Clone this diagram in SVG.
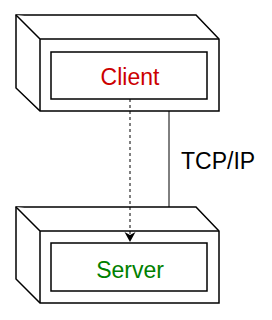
<svg xmlns="http://www.w3.org/2000/svg" width="272" height="320" viewBox="0 0 272 320">
<style>
.box{fill:#fff;stroke:#000;stroke-width:1.5}
.lbl{font-family:"Liberation Sans",Arial,sans-serif;font-size:23px;text-anchor:middle}
.edge{fill:none;stroke:#000;stroke-width:1}
</style>
<defs>
<marker id="arr" markerWidth="12" markerHeight="12" refX="10" refY="5.5" orient="auto" markerUnits="userSpaceOnUse">
<path d="M0,0 L10,5.5 L0,11 L3,5.5 Z" fill="#000"/>
</marker>
</defs>
<rect width="272" height="320" fill="#fff"/>
<g id="client">
<path class="box" d="M16,15 L196,15 L219,39 L219,111 L40,111 L16,88 Z"/>
<path class="box" d="M16,15 L40,39 L219,39 M40,39 L40,111"/>
<rect class="box" x="51" y="52" width="156" height="47"/>
<text class="lbl" x="130" y="84.5" fill="#CC0000">Client</text>
</g>
<g id="server">
<path class="box" d="M16,207 L196,207 L219,231 L219,303 L40,303 L16,279 Z"/>
<path class="box" d="M16,207 L40,231 L219,231 M40,231 L40,303"/>
<rect class="box" x="51" y="243" width="156" height="48"/>
<text class="lbl" x="130" y="277.5" fill="#008000">Server</text>
</g>
<g id="connectors">
<line class="edge" x1="130" y1="99" x2="130" y2="242" stroke-dasharray="3,3" marker-end="url(#arr)"/>
<line class="edge" x1="169" y1="111" x2="169" y2="207"/>
<text x="181" y="169" font-family="Liberation Sans,Arial,sans-serif" font-size="23" fill="#000">TCP/IP</text>
</g>
</svg>
